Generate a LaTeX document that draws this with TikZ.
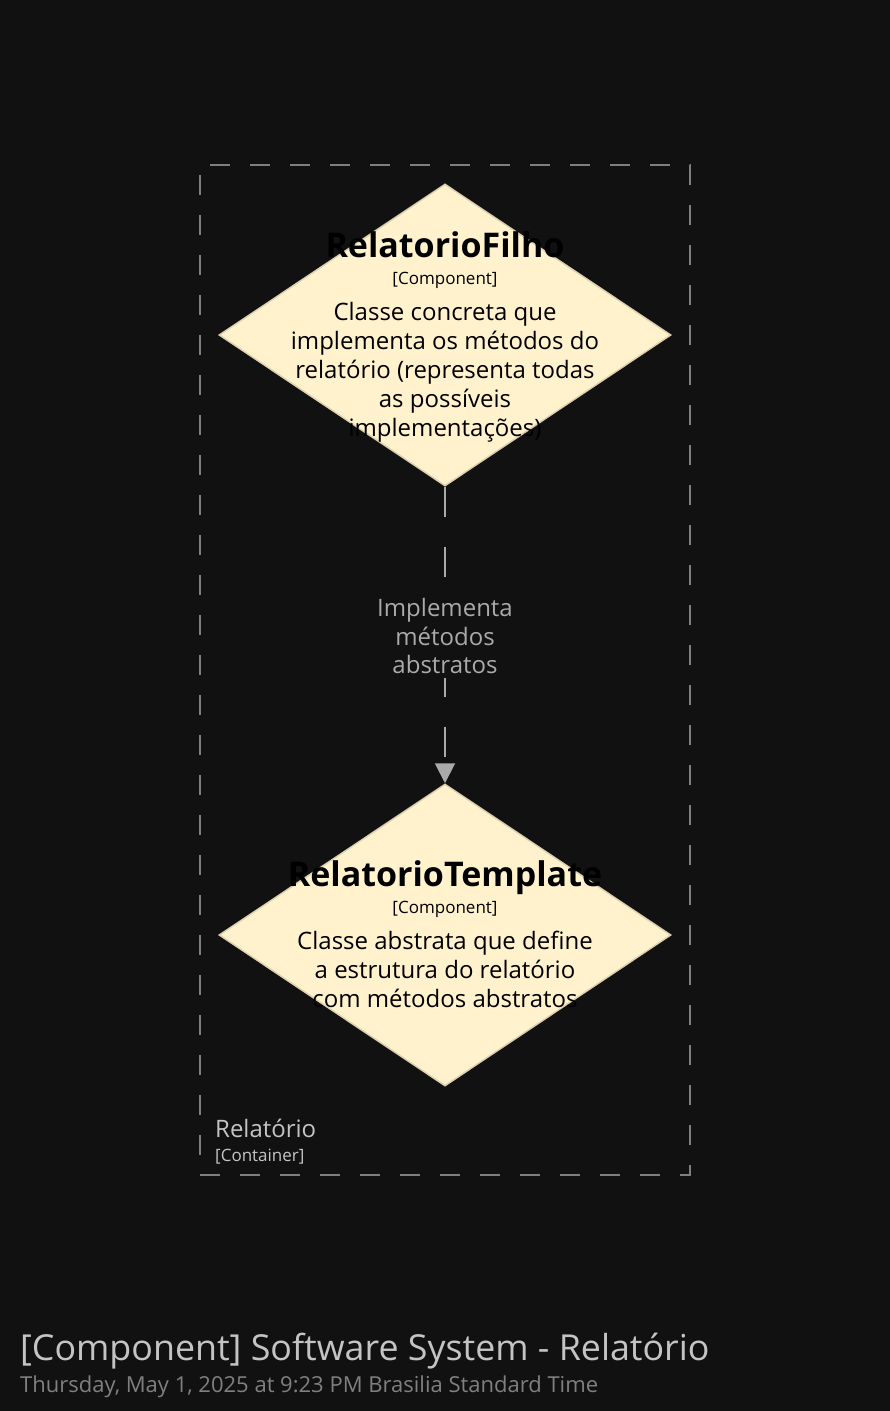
\documentclass[tikz,border=0pt]{standalone}
\usepackage{fontspec}
\setmainfont{Open Sans}
\usetikzlibrary{arrows.meta,shapes.geometric}

\definecolor{bg}{HTML}{111111}
\definecolor{cream}{HTML}{FFF2CC}
\definecolor{creamline}{HTML}{DDD0B0}
\definecolor{boxline}{HTML}{7F7F7F}
\definecolor{linkgray}{HTML}{AAAAAA}
\definecolor{softgray}{HTML}{C4C4C4}

\begin{document}
\begin{tikzpicture}[x=1pt, y=-1pt, node distance=600pt,
  main node/.style={diamond,draw=creamline,fill=cream,line width=1.5pt,minimum width=452pt,minimum height=302pt,inner sep=0pt},
  name text/.style={font=\fontsize{34}{40}\selectfont\bfseries,text=black,anchor=base,inner sep=0pt},
  meta text/.style={font=\fontsize{17}{20}\selectfont,text=black,anchor=base,inner sep=0pt},
  desc text/.style={font=\fontsize{24}{29}\selectfont,text=black,align=center,anchor=north,inner sep=0pt},
  container/.style={draw=boxline,line width=2pt,dash pattern=on 20pt off 20pt,minimum width=490pt,minimum height=1010pt,inner sep=0pt}]

      % background and page size
      \fill[bg] (0,0) rectangle (890,1411);
      \useasboundingbox (0,0) rectangle (890,1411);

      \node[container] (box) at (445,670) {};

      \node[main node] (1) at (445,335) {};
      \node[main node] (2) [below of=1] {};

      \node[name text] (1name) at (445,257) {RelatorioFilho};
      \node[meta text] (1meta) at (445,284) {[Component]};
      \node[desc text] (1desc) at (445,302) {Classe concreta que\\implementa os métodos do\\relatório (representa todas\\as possíveis\\implementações)};

      \node[name text] (2name) at (445,886) {RelatorioTemplate};
      \node[meta text] (2meta) at (445,913) {[Component]};
      \node[desc text] (2desc) at (445,931) {Classe abstrata que define\\a estrutura do relatório\\com métodos abstratos};

      \path[every node/.style={font=\fontsize{24}{28.5}\selectfont,text=linkgray,fill=bg,align=center,inner sep=4pt,yshift=-1pt}]
        (1) edge[draw=linkgray,line width=2pt,dash pattern=on 30pt off 30pt,-{Triangle[width=20pt,length=20pt]}] node {Implementa\\métodos\\abstratos} (2);

      \node[font=\fontsize{24}{28}\selectfont,text=softgray,anchor=base west,inner sep=0pt] (boxname) at (215,1137) {Relatório};
      \node[font=\fontsize{17}{20}\selectfont,text=softgray,anchor=base west,inner sep=0pt] (boxmeta) at (215,1161) {[Container]};

      \node[font=\fontsize{35.8}{42}\selectfont,text=softgray,anchor=base west,inner sep=0pt] (title) at (20,1360) {[Component] Software System - Relatório};
      \node[font=\fontsize{22}{26}\selectfont,text=gray,anchor=base west,inner sep=0pt] (date) at (20,1392) {Thursday, May 1, 2025 at 9:23 PM Brasilia Standard Time};

\end{tikzpicture}
\end{document}
